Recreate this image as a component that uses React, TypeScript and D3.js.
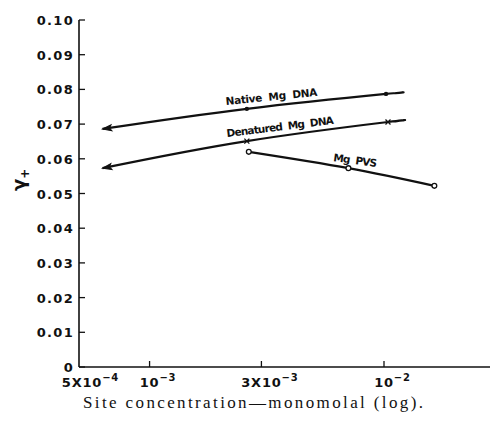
import React, { useEffect, useRef } from 'react';
import * as d3 from 'd3';

// site concentration (monomolal) and mean activity coefficient
const nativeConc = [6.3e-4, 2.6e-3, 1.02e-2, 1.12e-2];
const nativeGamma = [0.0686, 0.0744, 0.0787, 0.0789];
const denatConc = [6.3e-4, 2.6e-3, 1.04e-2, 1.12e-2];
const denatGamma = [0.0573, 0.0651, 0.0706, 0.0708];
const pvsConc = [2.65e-3, 7.05e-3, 1.64e-2];
const pvsGamma = [0.062, 0.0573, 0.0522];

const yTicks = [0, 0.01, 0.02, 0.03, 0.04, 0.05, 0.06, 0.07, 0.08, 0.09, 0.1];
const yTickLabels = ['0', '0.01', '0.02', '0.03', '0.04', '0.05', '0.06', '0.07', '0.08', '0.09', '0.10'];
const xTicks = [5e-4, 1e-3, 3e-3, 1e-2];
const xTickBase = ['5X10', '10', '3X10', '10'];
const xTickExp = ['−4', '−3', '−3', '−2'];

export default function App() {
    const svgRef = useRef<SVGSVGElement>(null);

    const width = 490;
    const height = 421;

    useEffect(() => {
        const svg = d3.select(svgRef.current);
        svg.selectAll('*').remove();

        const x = d3.scaleLog().domain([5e-4, 1e-2]).range([79, 384]);
        const y = d3.scaleLinear().domain([0, 0.1]).range([367, 20]);

        const g = svg.append('g');
        const tickFont = 'DejaVu Sans, sans-serif';

        // axes lines
        g.append('line').attr('x1', 79).attr('x2', 79).attr('y1', y(0.1)).attr('y2', y(0))
            .attr('stroke', '#111').attr('stroke-width', 1.6);
        g.append('line').attr('x1', 79).attr('x2', 490).attr('y1', y(0)).attr('y2', y(0))
            .attr('stroke', '#111').attr('stroke-width', 1.6);

        // y ticks
        yTicks.forEach((t, i) => {
            g.append('line').attr('x1', 79).attr('x2', 85).attr('y1', y(t)).attr('y2', y(t))
                .attr('stroke', '#111').attr('stroke-width', 1.3);
            g.append('text')
                .attr('x', 74).attr('y', y(t) + 5)
                .attr('text-anchor', 'end')
                .attr('font-family', tickFont).attr('font-size', 13).attr('font-weight', 'bold')
                .attr('letter-spacing', 1.3)
                .attr('fill', '#111')
                .text(yTickLabels[i]);
        });

        // x ticks with superscript exponent
        xTicks.forEach((t, i) => {
            if (i > 0) {
                g.append('line').attr('x1', x(t)).attr('x2', x(t)).attr('y1', y(0)).attr('y2', y(0) - 6)
                    .attr('stroke', '#111').attr('stroke-width', 1.3);
            }
            const txt = g.append('text')
                .attr('y', 387)
                .attr('font-family', tickFont).attr('font-size', 13).attr('font-weight', 'bold')
                .attr('letter-spacing', 0.8)
                .attr('fill', '#111');
            const base = txt.append('tspan').text(xTickBase[i]);
            txt.append('tspan').attr('dy', -6).attr('font-size', 10).text(xTickExp[i]);
            const bw = (base.node() as SVGTSpanElement).getComputedTextLength();
            txt.attr('x', x(t) - bw / 2 + (i === 0 ? 3 : 0));
        });

        // x label
        g.append('text')
            .attr('x', 83).attr('y', 408)
            .attr('font-family', 'Liberation Serif, serif').attr('font-size', 17)
            .attr('textLength', 340).attr('lengthAdjust', 'spacing')
            .attr('fill', '#111')
            .text('Site concentration\u2014monomolal (log).');

        // y label
        const yl = g.append('text')
            .attr('transform', 'translate(25,191) rotate(-90)')
            .attr('font-family', tickFont).attr('font-size', 18).attr('font-weight', 'bold')
            .attr('fill', '#111');
        yl.append('tspan').text('γ');
        yl.append('tspan').attr('dy', 4).attr('font-size', 12).text('+');

        const line = d3.line<[number, number]>()
            .x(d => x(d[0]))
            .y(d => y(d[1]))
            .curve(d3.curveNatural);

        const drawCurve = (cs: number[], gs: number[]) => {
            const pts = cs.map((c, i) => [c, gs[i]] as [number, number]);
            g.append('path').attr('d', line(pts) as string)
                .attr('fill', 'none').attr('stroke', '#111').attr('stroke-width', 2.2);
            return pts;
        };

        const arrowHead = (pts: [number, number][]) => {
            const x0 = x(pts[0][0]), y0 = y(pts[0][1]);
            const x1 = x(pts[1][0]), y1 = y(pts[1][1]);
            const ang = Math.atan2(y1 - y0, x1 - x0) * 180 / Math.PI;
            g.append('path')
                .attr('d', 'M0,0 L9,-3 L7,0 L9,3 Z')
                .attr('transform', `translate(${x0},${y0}) rotate(${ang})`)
                .attr('fill', '#111').attr('stroke', '#111').attr('stroke-width', 1);
        };

        const nat = drawCurve(nativeConc, nativeGamma);
        arrowHead(nat);
        nat.slice(1, 3).forEach(p => {
            g.append('circle').attr('cx', x(p[0])).attr('cy', y(p[1])).attr('r', 2.2).attr('fill', '#111');
        });

        const den = drawCurve(denatConc, denatGamma);
        arrowHead(den);
        den.slice(1, 3).forEach(p => {
            const cx = x(p[0]), cy = y(p[1]);
            g.append('path')
                .attr('d', `M${cx - 2.5},${cy - 2.5}L${cx + 2.5},${cy + 2.5}M${cx - 2.5},${cy + 2.5}L${cx + 2.5},${cy - 2.5}`)
                .attr('stroke', '#111').attr('stroke-width', 1.3);
        });

        const pvs = drawCurve(pvsConc, pvsGamma);
        pvs.forEach(p => {
            g.append('circle').attr('cx', x(p[0])).attr('cy', y(p[1])).attr('r', 2.4)
                .attr('fill', '#fff').attr('stroke', '#111').attr('stroke-width', 1.3);
        });

        // curve annotations
        const note = (label: string, tx: number, ty: number, ang: number, len: number) => {
            g.append('text')
                .attr('transform', `translate(${tx},${ty}) rotate(${ang})`)
                .attr('font-family', tickFont).attr('font-size', 10.5).attr('font-weight', 'bold')
                .attr('textLength', len).attr('lengthAdjust', 'spacing')
                .style('white-space', 'pre')
                .attr('fill', '#111')
                .text(label);
        };
        note('Native  Mg  DNA', 226, 105, -5.8, 92);
        note('Denatured  Mg  DNA', 227, 137, -7, 108);
        note('Mg  PVS', 333, 161, 8, 44);
    }, []);

    return (
        <div style={{ position: 'absolute', left: 0, top: 0 }}>
            <svg ref={svgRef} width={width} height={height} style={{ display: 'block', background: '#fff' }}></svg>
        </div>
    );
}
